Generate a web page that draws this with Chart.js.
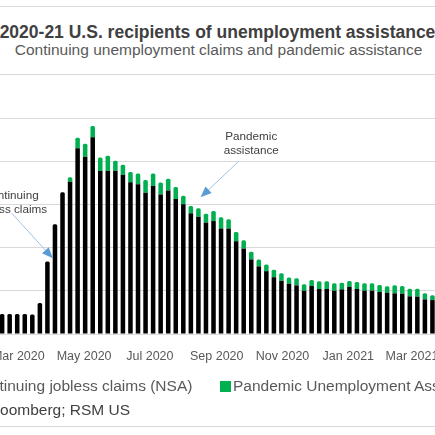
<!DOCTYPE html>
<html>
<head>
<meta charset="utf-8">
<script src="https://cdn.jsdelivr.net/npm/chart.js@4.4.1/dist/chart.umd.min.js"></script>
<style>
    html, body { margin: 0; padding: 0; background: #fff; }
    #page {
        position: relative; width: 435px; height: 435px; overflow: hidden;
        background: #fff; font-family: "Liberation Sans", Arial, sans-serif;
    }
    .rule { position: absolute; left: 0; width: 435px; height: 1px; background: #d9d9d9; }
    .txt { position: absolute; white-space: nowrap; }
    #title { left: -100px; width: 635px; text-align: center; top: 23.5px; font-size: 17.5px; line-height: 17.5px; font-weight: bold; color: #404040; }
    #subtitle { left: -100px; width: 637px; text-align: center; top: 42.4px; font-size: 15.5px; line-height: 15.5px; color: #595959; }
    .leg { top: 378.2px; font-size: 15.5px; line-height: 15.5px; color: #595959; }
    .box { position: absolute; top: 380.5px; width: 11px; height: 11px; }
    #source { left: -71.5px; top: 402.2px; font-size: 15.5px; line-height: 15.5px; color: #404040; }
    #wrap { position: absolute; left: -110px; top: 0; width: 656px; height: 435px; }
    #wrap canvas { display: block; }
</style>
</head>
<body>
<div id="page">
    <div class="rule" style="top:6px"></div>
    <div class="rule" style="top:74px"></div>
    <div class="rule" style="top:426px"></div>
    <div id="title" class="txt">2020-21 U.S. recipients of unemployment assistance</div>
    <div id="subtitle" class="txt">Continuing unemployment claims and pandemic assistance</div>
    <div id="wrap"><canvas id="chart" width="656" height="435"></canvas></div>
    <div class="box" style="left:-43px;background:#000"></div>
    <div class="txt leg" style="left:-29px">Continuing jobless claims (NSA)</div>
    <div class="box" style="left:220px;background:#00b050"></div>
    <div class="txt leg" style="left:233px">Pandemic Unemployment Assistance</div>
    <div id="source" class="txt">Source: Bloomberg; RSM US</div>
</div>

<script>
    "use strict";

    /* --- Weekly data (week ending), millions of recipients --- */
    var weeks = [
        "2020-02-15", "2020-02-22", "2020-02-29", "2020-03-07", "2020-03-14", "2020-03-21", "2020-03-28",
        "2020-04-04", "2020-04-11", "2020-04-18", "2020-04-25", "2020-05-02", "2020-05-09", "2020-05-16",
        "2020-05-23", "2020-05-30", "2020-06-06", "2020-06-13", "2020-06-20", "2020-06-27", "2020-07-04",
        "2020-07-11", "2020-07-18", "2020-07-25", "2020-08-01", "2020-08-08", "2020-08-15", "2020-08-22",
        "2020-08-29", "2020-09-05", "2020-09-12", "2020-09-19", "2020-09-26", "2020-10-03", "2020-10-10",
        "2020-10-17", "2020-10-24", "2020-10-31", "2020-11-07", "2020-11-14", "2020-11-21", "2020-11-28",
        "2020-12-05", "2020-12-12", "2020-12-19", "2020-12-26", "2021-01-02", "2021-01-09", "2021-01-16",
        "2021-01-23", "2021-01-30", "2021-02-06", "2021-02-13", "2021-02-20", "2021-02-27", "2021-03-06",
        "2021-03-13", "2021-03-20"
    ];

    var continuingClaims = [
        2.31, 2.31, 2.31, 2.31, 2.27, 3.60, 8.40,
        12.70, 16.40, 17.62, 21.49, 20.51, 22.76, 18.86,
        18.89, 18.89, 18.43, 17.55, 17.32, 16.35, 17.12,
        16.16, 16.60, 15.62, 15.01, 13.97, 13.57, 12.90,
        13.07, 12.21, 12.21, 10.74, 9.89, 8.64, 7.83,
        7.27, 6.57, 6.16, 5.82, 5.63, 5.01, 5.55,
        5.21, 5.21, 5.01, 5.17, 5.47, 5.21, 5.01,
        5.01, 4.86, 4.78, 4.71, 4.66, 4.36, 4.32,
        4.01, 3.93
    ];

    var pandemicAssistance = [
        0, 0, 0, 0, 0, 0, 0,
        0, 0, 0.51, 1.22, 1.51, 1.31, 1.58,
        1.74, 1.16, 1.16, 1.19, 1.27, 1.47, 1.47,
        1.37, 1.36, 1.39, 0.99, 0.84, 0.97, 1.02,
        1.16, 1.29, 1.06, 1.08, 0.96, 0.87, 0.78,
        0.77, 0.86, 0.87, 0.72, 0.81, 0.74, 0.70,
        0.89, 0.89, 0.86, 0.77, 0.66, 0.81, 0.86,
        0.86, 0.81, 0.74, 0.92, 0.89, 0.88, 0.92,
        0.70, 0.55
    ];

    var tickDates = ["2020-03-01", "2020-05-01", "2020-07-01", "2020-09-01", "2020-11-01", "2021-01-01", "2021-03-01"];
    var tickLabels = ["Mar 2020", "May 2020", "Jul 2020", "Sep 2020", "Nov 2020", "Jan 2021", "Mar 2021"];

    /* --- Callout notes, anchored in data space (date, millions) --- */
    var notes = [
        { lines: ["Continuing", "jobless claims"], at: ["2020-02-23", 15.97], from: ["2020-02-24", 13.97], to: ["2020-04-02", 8.76] },
        { lines: ["Pandemic", "assistance"], at: ["2020-10-03", 22.8], from: ["2020-09-21", 19.94], to: ["2020-08-17", 15.82] }
    ];

    var FONT = "'Liberation Sans', Arial, sans-serif";

    /* days since 1 Mar 2020 */
    function dayNum(s) {
        var p = s.split("-");
        return (Date.UTC(+p[0], +p[1] - 1, +p[2]) - Date.UTC(2020, 2, 1)) / 86400000;
    }

    function series(values) {
        return weeks.map(function (w, i) { return { x: dayNum(w), y: values[i] }; });
    }

    var notePlugin = {
        id: "notes",
        afterDatasetsDraw: function (chart) {
            var ctx = chart.ctx;
            var xs = chart.scales.x;
            var ys = chart.scales.y;
            ctx.save();
            notes.forEach(function (n) {
                var tx = xs.getPixelForValue(dayNum(n.at[0]));
                var ty = ys.getPixelForValue(n.at[1]);
                ctx.fillStyle = "#404040";
                ctx.font = "11.7px " + FONT;
                ctx.textAlign = "center";
                ctx.textBaseline = "middle";
                n.lines.forEach(function (line, i) { ctx.fillText(line, tx, ty + i * 14); });

                var x0 = xs.getPixelForValue(dayNum(n.from[0])), y0 = ys.getPixelForValue(n.from[1]);
                var x1 = xs.getPixelForValue(dayNum(n.to[0])), y1 = ys.getPixelForValue(n.to[1]);
                var ang = Math.atan2(y1 - y0, x1 - x0);
                var len = 11, half = 4.5;
                var bx = x1 - Math.cos(ang) * len, by = y1 - Math.sin(ang) * len;

                ctx.strokeStyle = "#9dc3e6";
                ctx.lineWidth = 1;
                ctx.beginPath();
                ctx.moveTo(x0, y0);
                ctx.lineTo(bx, by);
                ctx.stroke();

                ctx.fillStyle = "#5b9bd5";
                ctx.beginPath();
                ctx.moveTo(x1, y1);
                ctx.lineTo(bx - Math.sin(ang) * half, by + Math.cos(ang) * half);
                ctx.lineTo(bx + Math.sin(ang) * half, by - Math.cos(ang) * half);
                ctx.closePath();
                ctx.fill();
            });
            ctx.restore();
        }
    };

    new Chart(document.getElementById("chart"), {
        type: "bar",
        data: {
            datasets: [
                {
                    label: "Continuing jobless claims (NSA)",
                    data: series(continuingClaims),
                    backgroundColor: "#000000",
                    stack: "s",
                    barPercentage: 0.6,
                    categoryPercentage: 1,
                    borderRadius: 1.5
                },
                {
                    label: "Pandemic Unemployment Assistance",
                    data: series(pandemicAssistance),
                    backgroundColor: "#00b050",
                    stack: "s",
                    barPercentage: 0.6,
                    categoryPercentage: 1,
                    borderRadius: 1.5
                }
            ]
        },
        options: {
            responsive: false,
            animation: false,
            layout: { padding: { top: 118, right: 66, bottom: 71, left: 0 } },
            plugins: {
                legend: { display: false },
                tooltip: { enabled: false }
            },
            scales: {
                x: {
                    type: "linear",
                    min: -72.6,
                    max: 428.1,
                    offset: false,
                    stacked: true,
                    grid: { display: false },
                    border: { display: false },
                    afterBuildTicks: function (scale) {
                        scale.ticks = tickDates.map(function (d) { return { value: dayNum(d) }; });
                    },
                    afterFit: function (scale) { scale.height = 30; },
                    ticks: {
                        autoSkip: false,
                        maxRotation: 0,
                        padding: 7,
                        color: "#595959",
                        font: { size: 12.5, family: FONT },
                        callback: function (val, i) { return tickLabels[i]; }
                    }
                },
                y: {
                    min: 0,
                    max: 25,
                    stacked: true,
                    ticks: { display: false, stepSize: 5 },
                    grid: { color: "#d9d9d9", drawTicks: false },
                    border: { display: false },
                    afterFit: function (scale) { scale.width = 50; }
                }
            }
        },
        plugins: [notePlugin]
    });
</script>
</body>
</html>
